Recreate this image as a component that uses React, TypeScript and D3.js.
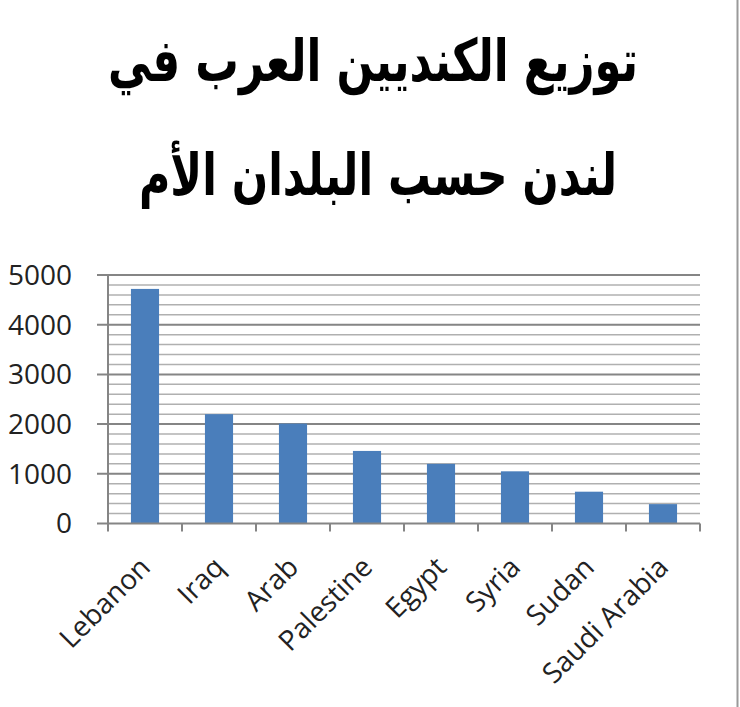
import React, { useEffect, useRef } from 'react';
import * as d3 from 'd3';

const countries = ['Lebanon', 'Iraq', 'Arab', 'Palestine', 'Egypt', 'Syria', 'Sudan', 'Saudi Arabia'];
const counts = [4720, 2200, 2010, 1460, 1200, 1050, 640, 390];
const yTicks = [0, 1000, 2000, 3000, 4000, 5000];
const titleLines = ['توزيع الكنديين العرب في', 'لندن حسب البلدان الأم'];

const W = 740;
const H = 707;

const App: React.FC = () => {
  const ref = useRef<SVGSVGElement>(null);

  useEffect(() => {
    if (!ref.current) return;
    const svg = d3.select(ref.current);
    svg.selectAll('*').remove();

    svg.append('rect').attr('width', W).attr('height', H).attr('fill', '#fff');
    // bordure droite
    svg.append('line')
      .attr('x1', 737.5).attr('x2', 737.5).attr('y1', 0).attr('y2', H)
      .attr('stroke', '#9a9a9a').attr('stroke-width', 2);

    // titre
    const titleWidths = [530, 478];
    const titleY = [81, 195];
    const titleX = [373, 378];
    titleLines.forEach((t, i) => {
      const txt = svg.append('text')
        .attr('transform', `translate(${titleX[i]},${titleY[i]}) scale(1,1.35)`)
        .attr('text-anchor', 'middle')
        .attr('direction', 'rtl')
        .style('font-family', 'DejaVu Sans, sans-serif')
        .style('font-weight', 'bold')
        .style('font-size', '40px')
        .attr('fill', '#000')
        .text(t);
      const len = (txt.node() as SVGTextElement).getComputedTextLength();
      if (len > 0) txt.style('font-size', `${(40 * titleWidths[i]) / len}px`);
    });

    const left = 108, right = 700, top = 275, bottom = 523.5;

    const x = d3.scaleBand<string>().domain(countries).range([left, right]);
    const y = d3.scaleLinear().domain([0, 5000]).range([bottom, top]);

    // lignes de grille mineures
    const minor = d3.range(200, 5001, 200).filter(v => v % 1000 !== 0);
    svg.append('g').selectAll('line').data(minor).enter().append('line')
      .attr('x1', left).attr('x2', right)
      .attr('y1', d => y(d)).attr('y2', d => y(d))
      .attr('stroke', '#b0b0b0').attr('stroke-width', 1.5);

    // lignes de grille majeures
    svg.append('g').selectAll('line').data(yTicks.filter(v => v > 0)).enter().append('line')
      .attr('x1', left - 11).attr('x2', right)
      .attr('y1', d => y(d)).attr('y2', d => y(d))
      .attr('stroke', '#858585').attr('stroke-width', 2);

    // barres
    const bw = x.bandwidth() * 0.38;
    svg.append('g').selectAll('rect').data(counts).enter().append('rect')
      .attr('x', (_, i) => (x(countries[i]) as number) + x.bandwidth() / 2 - bw / 2)
      .attr('y', d => y(d))
      .attr('width', bw)
      .attr('height', d => bottom - y(d))
      .attr('fill', '#4a7ebb');

    // axes
    svg.append('line')
      .attr('x1', left).attr('x2', left).attr('y1', top).attr('y2', bottom)
      .attr('stroke', '#858585').attr('stroke-width', 2);
    svg.append('line')
      .attr('x1', left - 11).attr('x2', right).attr('y1', bottom).attr('y2', bottom)
      .attr('stroke', '#858585').attr('stroke-width', 2);
    const bounds = countries.map(c => x(c) as number).concat([right]);
    svg.append('g').selectAll('line').data(bounds).enter().append('line')
      .attr('x1', d => d).attr('x2', d => d)
      .attr('y1', bottom).attr('y2', bottom + 8)
      .attr('stroke', '#858585').attr('stroke-width', 2);

    // étiquettes de l'axe Y
    svg.append('g').selectAll('text').data(yTicks).enter().append('text')
      .attr('x', 72)
      .attr('y', d => y(d))
      .attr('dy', '0.35em')
      .attr('text-anchor', 'end')
      .style('font-family', 'Open Sans, sans-serif')
      .style('font-size', '28px')
      .attr('fill', '#222')
      .text(d => String(d));

    // étiquettes de l'axe X
    svg.append('g').selectAll('text').data(countries).enter().append('text')
      .attr('transform', d => `translate(${(x(d) as number) + x.bandwidth() / 2 + 7},569) rotate(-45)`)
      .attr('text-anchor', 'end')
      .style('font-family', 'Open Sans, sans-serif')
      .style('font-size', '28px')
      .attr('fill', '#222')
      .text(d => d);
  }, []);

  return (
    <svg ref={ref} width={W} height={H} style={{ position: 'absolute', left: 0, top: 0 }} />
  );
};

export default App;
